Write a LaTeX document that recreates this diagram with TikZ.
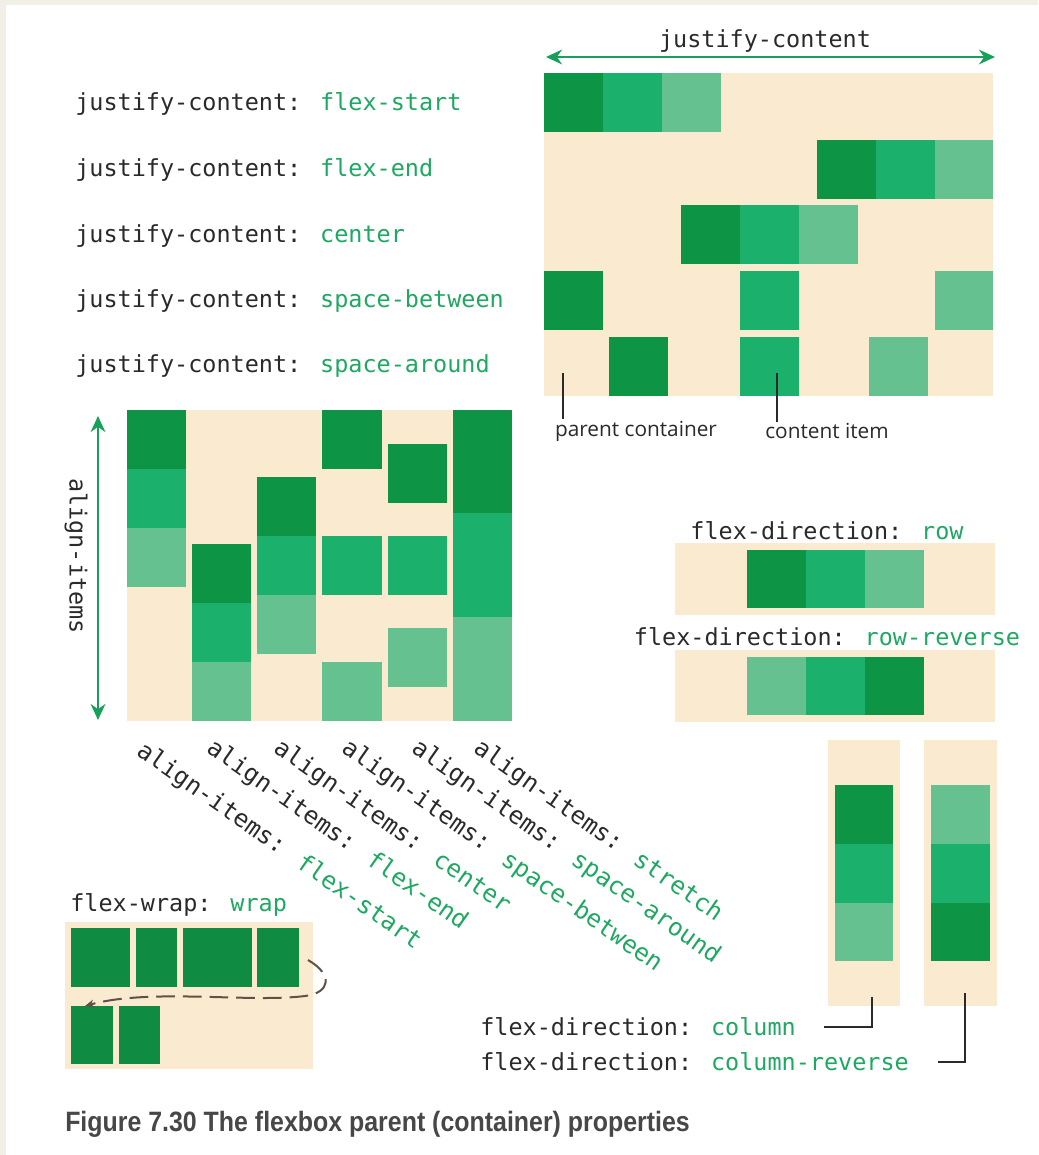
\documentclass[tikz,border=0pt]{standalone}
\usepackage{fontspec}
\usepackage{graphicx}
\usetikzlibrary{arrows.meta,positioning}
\newfontfamily\codefont{DejaVu Sans Mono}
\newfontfamily\notefont{Open Sans}
\newfontfamily\capfont{Liberation Sans}
\definecolor{pagerim}{HTML}{F2F0E6}
\definecolor{box}{HTML}{FAEBD0}
\definecolor{dk}{HTML}{0D9444}
\definecolor{md}{HTML}{1BB06B}
\definecolor{lt}{HTML}{66C190}
\definecolor{wrapgreen}{HTML}{0F8C42}
\definecolor{val}{HTML}{1EA862}
\definecolor{arrowgreen}{HTML}{17A05A}
\definecolor{ink}{HTML}{2A2A2A}
\definecolor{dashink}{HTML}{5C5346}
\newcommand{\val}[1]{\textcolor{val}{#1}}

\begin{document}
\begin{tikzpicture}[x=0.75pt, y=-0.75pt,
  code/.style={font=\codefont\fontsize{17.6}{20}\selectfont, text=ink, inner sep=0pt},
  slant/.style={code, font=\codefont\fontsize{18.2}{20}\selectfont, rotate=-35, anchor=north west},
  note/.style={font=\notefont\fontsize{15.6}{18}\selectfont, text=ink, inner sep=1pt},
  span/.style={draw=arrowgreen, line width=1.6pt, {Stealth[length=12pt,width=11pt]}-{Stealth[length=12pt,width=11pt]}},
  ptr/.style={draw=ink, line width=1pt},
  wrapline/.style={draw=dashink, line width=1.5pt, dash pattern=on 14pt off 6pt, -{Stealth[length=7pt,width=6pt]}}]
\useasboundingbox (0,0) rectangle (1038,1155);
\fill[pagerim] (0,0) rectangle (1038,1155);
\fill[white] (6,5) rectangle (1038,1155);

% justify-content
\coordinate (jl) at (546,57);
\coordinate (jr) at (995,57);
\draw[span] (jl) -- (jr);
\node (jc) [code] at (765,41) {justify-content};
\fill[box] (544,73) rectangle (993,396);
\fill[dk] (544,73) rectangle ++(59,59);
\fill[md] (603,73) rectangle ++(59,59);
\fill[lt] (662,73) rectangle ++(59,59);
\fill[dk] (817,140) rectangle ++(59,59);
\fill[md] (876,140) rectangle ++(59,59);
\fill[lt] (935,140) rectangle ++(58,59);
\fill[dk] (681,205) rectangle ++(59,59);
\fill[md] (740,205) rectangle ++(59,59);
\fill[lt] (799,205) rectangle ++(59,59);
\fill[dk] (544,271) rectangle ++(59,59);
\fill[md] (740,271) rectangle ++(59,59);
\fill[lt] (935,271) rectangle ++(58,59);
\fill[dk] (609,337) rectangle ++(59,59);
\fill[md] (740,337) rectangle ++(59,59);
\fill[lt] (869,337) rectangle ++(59,59);
\node (js) [code, anchor=west] at (75,104) {justify-content: \val{flex-start}};
\node (je) [code, anchor=west] at (75,170) {justify-content: \val{flex-end}};
\node (jm) [code, anchor=west] at (75,236) {justify-content: \val{center}};
\node (jb) [code, anchor=west] at (75,301) {justify-content: \val{space-between}};
\node (ja) [code, anchor=west] at (75,366) {justify-content: \val{space-around}};
\node (pc) [note] at (636,431) {parent container};
\node (ci) [note] at (827,431) {content item};
\coordinate (pcp) at (563,373);
\coordinate (cip) at (777,373);
\draw[ptr] (pcp) -- (pcp |- pc.north);
\draw[ptr] (cip) -- (cip |- ci.north);

% align-items
\coordinate (at) at (98,416);
\coordinate (ab) at (98,720);
\draw[span] (at) -- (ab);
\node (ai) [code, rotate=-90] at (76,556) {align-items};
\fill[box] (127,410) rectangle (512,721);
\fill[dk] (127,410) rectangle ++(59,59);
\fill[md] (127,469) rectangle ++(59,59);
\fill[lt] (127,528) rectangle ++(59,59);
\fill[dk] (192,544) rectangle ++(59,59);
\fill[md] (192,603) rectangle ++(59,59);
\fill[lt] (192,662) rectangle ++(59,59);
\fill[dk] (257,477) rectangle ++(59,59);
\fill[md] (257,536) rectangle ++(59,59);
\fill[lt] (257,595) rectangle ++(59,59);
\fill[dk] (322,410) rectangle ++(60,59);
\fill[md] (322,536) rectangle ++(60,59);
\fill[lt] (322,662) rectangle ++(60,59);
\fill[dk] (388,444) rectangle ++(59,59);
\fill[md] (388,536) rectangle ++(59,59);
\fill[lt] (388,628) rectangle ++(59,59);
\fill[dk] (453,410) rectangle (512,513);
\fill[md] (453,513) rectangle (512,617);
\fill[lt] (453,617) rectangle (512,721);
\node (as) [slant] at (146,739) {align-items: \val{flex-start}};
\node (ae) [slant] at (216,736) {align-items: \val{flex-end}};
\node (am) [slant] at (283,736) {align-items: \val{center}};
\node (ab2) [slant] at (351,736) {align-items: \val{space-between}};
\node (aa) [slant] at (421,736) {align-items: \val{space-around}};
\node (ax) [slant] at (483,736) {align-items: \val{stretch}};

% flex-wrap
\node (fw) [code, anchor=west] at (70,905) {flex-wrap: \val{wrap}};
\fill[box] (65,922) rectangle (313,1069);
\fill[wrapgreen] (71,928) rectangle (130,987);
\fill[wrapgreen] (136,928) rectangle (177,987);
\fill[wrapgreen] (183,928) rectangle (252,987);
\fill[wrapgreen] (257,928) rectangle (299,987);
\fill[wrapgreen] (71,1006) rectangle (113,1064);
\fill[wrapgreen] (119,1006) rectangle (160,1064);
\coordinate (wa) at (308,960);
\coordinate (wb) at (85,1006);
\draw[wrapline] (wa) .. controls (334,975) and (330,993) .. (305,996)
  .. controls (250,1003) and (150,988) .. (wb);

% flex-direction: row / row-reverse
\node (fr) [code] at (827,531) {flex-direction: \val{row}};
\fill[box] (675,543) rectangle (995,615);
\fill[dk] (747,550) rectangle ++(59,58);
\fill[md] (806,550) rectangle ++(59,58);
\fill[lt] (865,550) rectangle ++(59,58);
\node (frr) [code] at (827,637) {flex-direction: \val{row-reverse}};
\fill[box] (675,650) rectangle (995,722);
\fill[lt] (747,657) rectangle ++(59,58);
\fill[md] (806,657) rectangle ++(59,58);
\fill[dk] (865,657) rectangle ++(59,58);

% flex-direction: column / column-reverse
\fill[box] (828,740) rectangle (900,1006);
\fill[dk] (835,785) rectangle ++(58,59);
\fill[md] (835,844) rectangle ++(58,59);
\fill[lt] (835,903) rectangle ++(58,58);
\fill[box] (924,740) rectangle (997,1006);
\fill[lt] (931,785) rectangle ++(59,59);
\fill[md] (931,844) rectangle ++(59,59);
\fill[dk] (931,903) rectangle ++(59,58);
\node (fc) [code, anchor=west] at (480,1027) {flex-direction: \val{column}};
\node (fcr) [code, anchor=west] at (480,1062) {flex-direction: \val{column-reverse}};
\coordinate (fcp) at (872,997);
\coordinate (fcrp) at (965,993);
\draw[ptr] ([xshift=21pt]fc.east) -| (fcp);
\draw[ptr] ([xshift=22pt]fcr.east) -| (fcrp);

% caption
\node (cap) [anchor=west, inner sep=0pt, text=black!72] at (65,1124)
  {\scalebox{0.89}[1]{\capfont\bfseries\fontsize{21}{24}\selectfont Figure 7.30 The flexbox parent (container) properties}};
\end{tikzpicture}
\end{document}
